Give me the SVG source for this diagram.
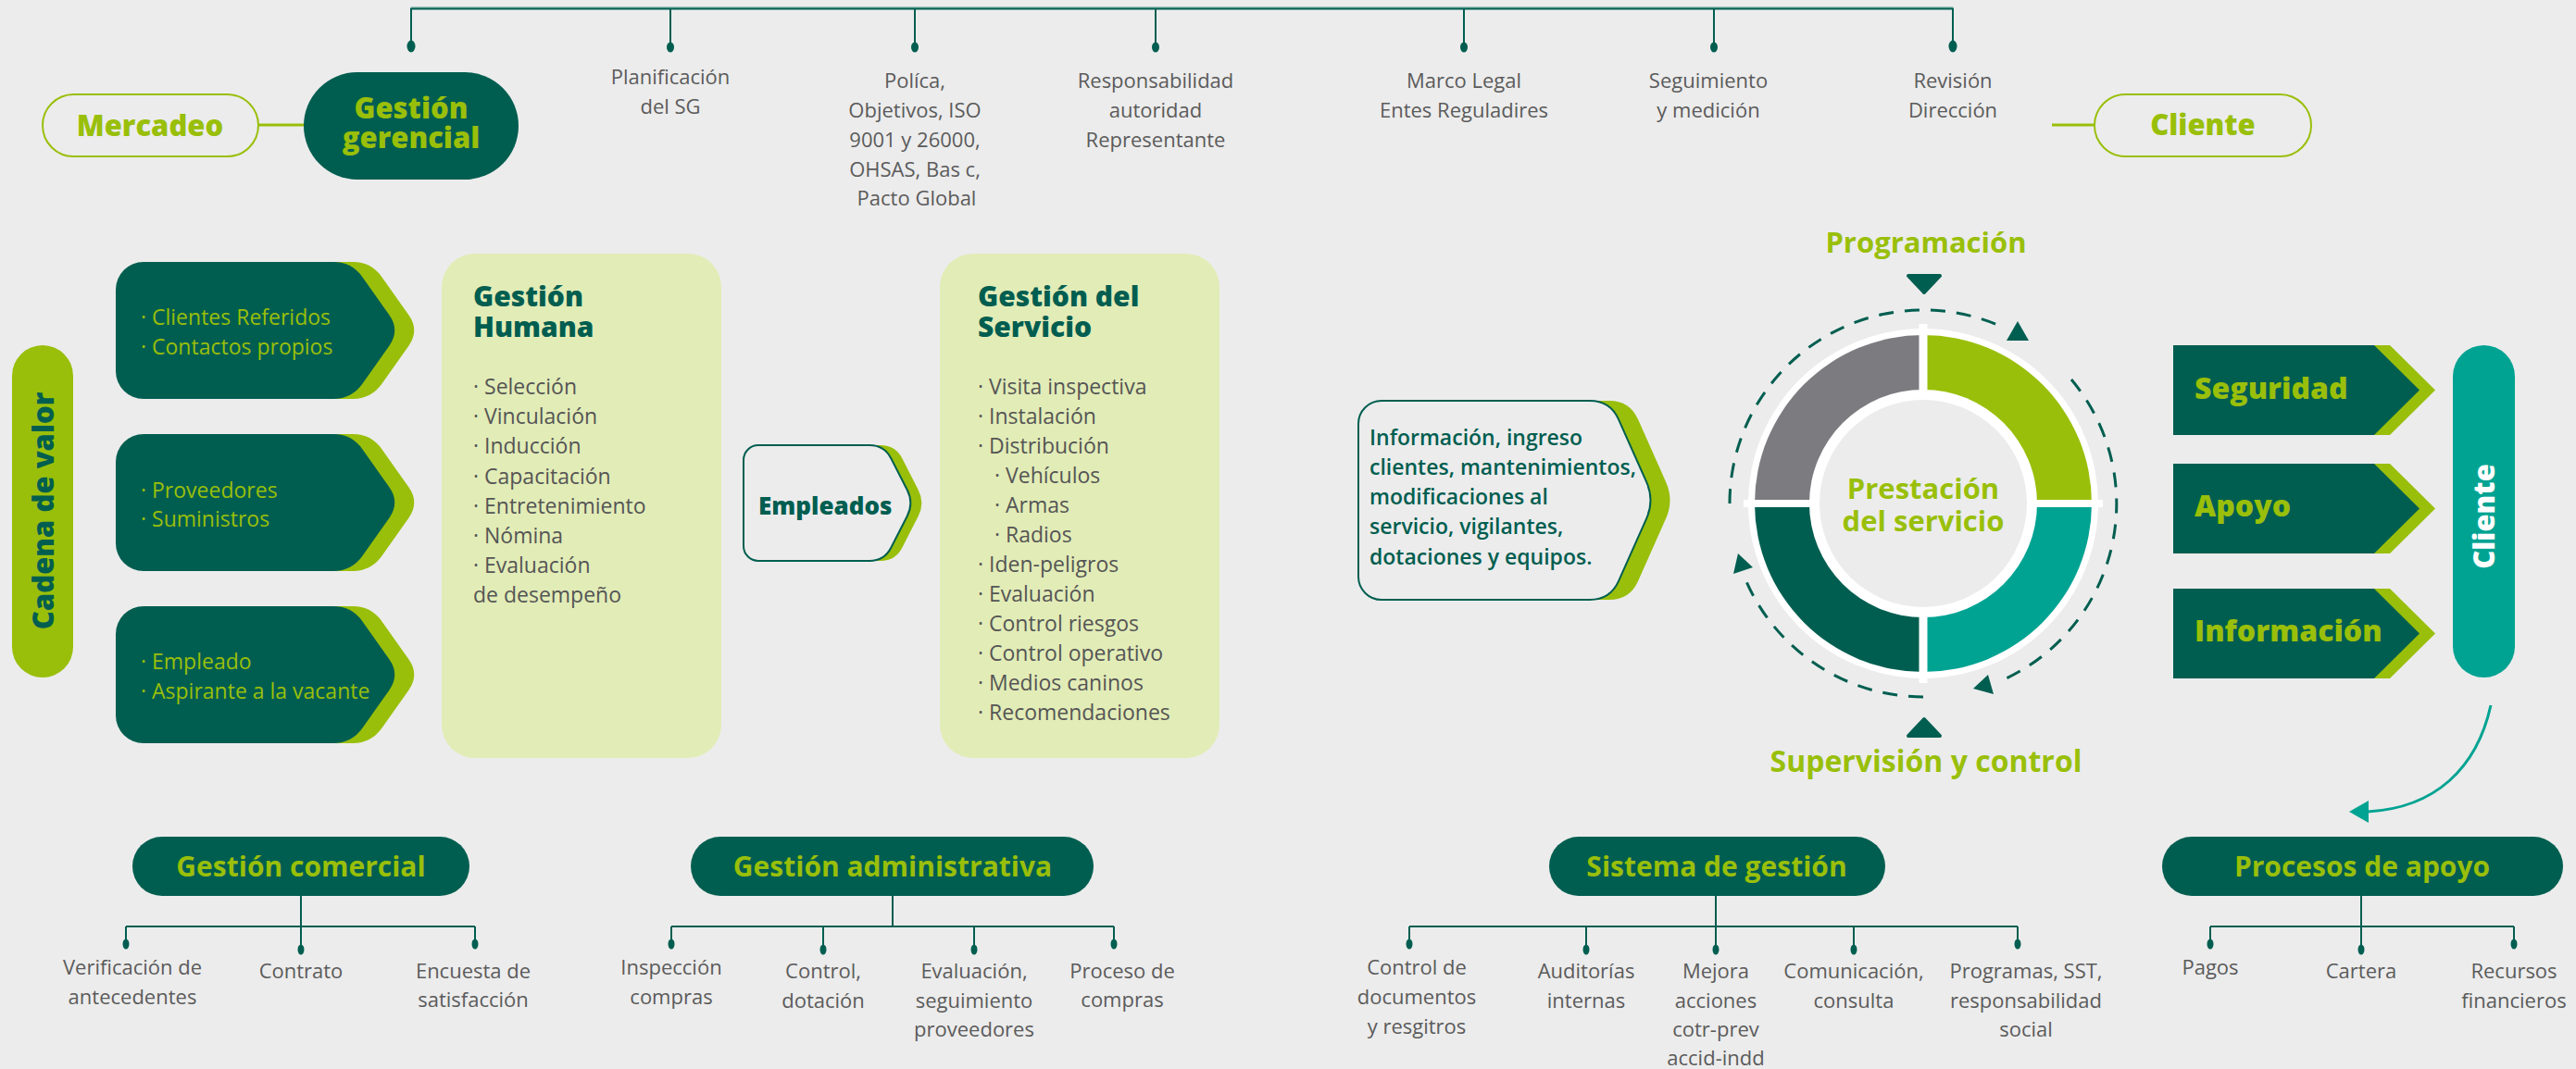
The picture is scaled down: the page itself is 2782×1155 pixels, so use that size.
<svg xmlns="http://www.w3.org/2000/svg" width="2782" height="1155" viewBox="0 0 2782 1155">
<defs>
<style>
text{font-family:"Open Sans","Liberation Sans",sans-serif}
.lbl{font-size:22px;fill:#5b5b5b;text-anchor:middle}
.item{font-size:23px;fill:#555}
.lit{font-size:23px;fill:#99bf0a}
.hl{font-weight:700;fill:#99bf0a;text-anchor:middle}
.xb{font-weight:800}
.hd{font-weight:800;fill:#005e50}
.ln{stroke:#005e50;stroke-width:2;fill:none}
.dot{fill:#005e50}
.dg{fill:#005e50}
.lm{fill:#99bf0a}
.dash{stroke:#005e50;stroke-width:3;fill:none;stroke-dasharray:16 12}
</style>
<path id="lbox" d="M155,283 H360 Q380,283 391.5,299.4 L420.5,340.6 Q432,357 420.5,373.4 L391.5,414.6 Q380,431 360,431 H155 A30,30 0 0 1 125,401 V313 A30,30 0 0 1 155,283 Z"/>
<polygon id="rarr" points="2347,373 2564,373 2613,421.5 2564,470 2347,470"/>
</defs>
<rect width="2782" height="1155" fill="#ececec"/>

<g id="connectors">
<line x1="444" y1="8" x2="2109" y2="8" stroke="#7fb3a8" stroke-width="1.5"/>
<line class="ln" x1="443" y1="9.5" x2="2110" y2="9.5" stroke-width="2.5"/>
<line class="ln" x1="444" y1="9" x2="444" y2="48"/>
<line class="ln" x1="724" y1="9" x2="724" y2="48"/>
<line class="ln" x1="988" y1="9" x2="988" y2="48"/>
<line class="ln" x1="1248" y1="9" x2="1248" y2="48"/>
<line class="ln" x1="1581" y1="9" x2="1581" y2="48"/>
<line class="ln" x1="1851" y1="9" x2="1851" y2="48"/>
<line class="ln" x1="2109" y1="9" x2="2109" y2="48"/>
<ellipse class="dot" cx="444" cy="50" rx="4.5" ry="6.5"/>
<ellipse class="dot" cx="724" cy="51" rx="4" ry="5.5"/>
<ellipse class="dot" cx="988" cy="51" rx="4" ry="5.5"/>
<ellipse class="dot" cx="1248" cy="51" rx="4" ry="5.5"/>
<ellipse class="dot" cx="1581" cy="51" rx="4" ry="5.5"/>
<ellipse class="dot" cx="1851" cy="51" rx="4" ry="5.5"/>
<ellipse class="dot" cx="2109" cy="50" rx="4.5" ry="6.5"/>
<line x1="279" y1="135" x2="330" y2="135" stroke="#99bf0a" stroke-width="3"/>
<line x1="2216" y1="135" x2="2262" y2="135" stroke="#99bf0a" stroke-width="3"/>
<line class="ln" x1="325" y1="968" x2="325" y2="1001"/>
<line class="ln" x1="136" y1="1001" x2="513" y2="1001"/>
<line class="ln" x1="136" y1="1001" x2="136" y2="1018"/>
<line class="ln" x1="325" y1="1001" x2="325" y2="1024"/>
<line class="ln" x1="513" y1="1001" x2="513" y2="1018"/>
<ellipse class="dot" cx="136" cy="1020" rx="3.5" ry="5.5"/>
<ellipse class="dot" cx="325" cy="1026" rx="3.5" ry="5.5"/>
<ellipse class="dot" cx="513" cy="1020" rx="3.5" ry="5.5"/>
<line class="ln" x1="964" y1="968" x2="964" y2="1001"/>
<line class="ln" x1="725" y1="1001" x2="1203" y2="1001"/>
<line class="ln" x1="725" y1="1001" x2="725" y2="1018"/>
<line class="ln" x1="889" y1="1001" x2="889" y2="1024"/>
<line class="ln" x1="1052" y1="1001" x2="1052" y2="1024"/>
<line class="ln" x1="1203" y1="1001" x2="1203" y2="1018"/>
<ellipse class="dot" cx="725" cy="1020" rx="3.5" ry="5.5"/>
<ellipse class="dot" cx="889" cy="1026" rx="3.5" ry="5.5"/>
<ellipse class="dot" cx="1052" cy="1026" rx="3.5" ry="5.5"/>
<ellipse class="dot" cx="1203" cy="1020" rx="3.5" ry="5.5"/>
<line class="ln" x1="1853" y1="968" x2="1853" y2="1001"/>
<line class="ln" x1="1522" y1="1001" x2="2179" y2="1001"/>
<line class="ln" x1="1522" y1="1001" x2="1522" y2="1018"/>
<line class="ln" x1="1713" y1="1001" x2="1713" y2="1024"/>
<line class="ln" x1="1853" y1="1001" x2="1853" y2="1024"/>
<line class="ln" x1="2002" y1="1001" x2="2002" y2="1024"/>
<line class="ln" x1="2179" y1="1001" x2="2179" y2="1018"/>
<ellipse class="dot" cx="1522" cy="1020" rx="3.5" ry="5.5"/>
<ellipse class="dot" cx="1713" cy="1026" rx="3.5" ry="5.5"/>
<ellipse class="dot" cx="1853" cy="1026" rx="3.5" ry="5.5"/>
<ellipse class="dot" cx="2002" cy="1026" rx="3.5" ry="5.5"/>
<ellipse class="dot" cx="2179" cy="1020" rx="3.5" ry="5.5"/>
<line class="ln" x1="2550" y1="968" x2="2550" y2="1001"/>
<line class="ln" x1="2387" y1="1001" x2="2715" y2="1001"/>
<line class="ln" x1="2387" y1="1001" x2="2387" y2="1018"/>
<line class="ln" x1="2550" y1="1001" x2="2550" y2="1024"/>
<line class="ln" x1="2715" y1="1001" x2="2715" y2="1018"/>
<ellipse class="dot" cx="2387" cy="1020" rx="3.5" ry="5.5"/>
<ellipse class="dot" cx="2550" cy="1026" rx="3.5" ry="5.5"/>
<ellipse class="dot" cx="2715" cy="1020" rx="3.5" ry="5.5"/>
<path class="dash" d="M1868,544 A209,209 0 0 1 2162,353"/>
<polygon class="dg" points="2179,347 2167,368 2191,368"/>
<path class="dash" d="M2237,410 A209,209 0 0 1 2160,736"/>
<polygon class="dg" points="2131,744 2147,729 2153,750"/>
<path class="dash" d="M2077,753 A209,209 0 0 1 1885,626"/>
<polygon class="dg" points="1877,598 1872,620 1893,613"/>
<path d="M2690,762 C2675,830 2630,873 2557,877" stroke="#00a392" stroke-width="3" fill="none"/>
<polygon points="2537,877 2558,865 2558,889" fill="#00a392"/>
</g>

<g id="top-labels">
<text class="lbl" x="724" y="91">Planificación</text>
<text class="lbl" x="724" y="123">del SG</text>
<text class="lbl" x="988" y="95">Políca,</text>
<text class="lbl" x="988" y="127">Objetivos, ISO</text>
<text class="lbl" x="988" y="159">9001 y 26000,</text>
<text class="lbl" x="988" y="191">OHSAS, Bas c,</text>
<text class="lbl" x="990" y="222">Pacto Global</text>
<text class="lbl" x="1248" y="95">Responsabilidad</text>
<text class="lbl" x="1248" y="127">autoridad</text>
<text class="lbl" x="1248" y="159">Representante</text>
<text class="lbl" x="1581" y="95">Marco Legal</text>
<text class="lbl" x="1581" y="127">Entes Reguladires</text>
<text class="lbl" x="1845" y="95">Seguimiento</text>
<text class="lbl" x="1845" y="127">y medición</text>
<text class="lbl" x="2109" y="95">Revisión</text>
<text class="lbl" x="2109" y="127">Dirección</text>
</g>

<g id="mercadeo">
<rect x="46" y="102" width="233" height="67" rx="33.5" fill="none" stroke="#99bf0a" stroke-width="2"/>
<text class="hl xb" x="162" y="147" font-size="31">Mercadeo</text>
</g>
<g id="gestion-gerencial">
<rect x="328" y="78" width="232" height="116" rx="58" class="dg"/>
<text class="hl xb" x="444" y="128" font-size="31">Gestión</text>
<text class="hl xb" x="444" y="160" font-size="31">gerencial</text>
</g>
<g id="cliente-top">
<rect x="2262" y="102" width="234" height="67" rx="33.5" fill="none" stroke="#99bf0a" stroke-width="2"/>
<text class="hl xb" x="2379" y="146" font-size="31">Cliente</text>
</g>

<g id="cadena-de-valor">
<rect x="13" y="373" width="66" height="359" rx="33" class="lm"/>
<text class="hd" transform="translate(58,552) rotate(-90)" text-anchor="middle" font-size="31">Cadena de valor</text>
</g>

<g id="box-clientes">
<use href="#lbox" class="lm" transform="translate(21,0)"/>
<use href="#lbox" class="dg"/>
<text class="lit" x="152" y="351">· Clientes Referidos</text>
<text class="lit" x="152" y="383">· Contactos propios</text>
</g>
<g id="box-proveedores">
<use href="#lbox" class="lm" transform="translate(21,186)"/>
<use href="#lbox" class="dg" transform="translate(0,186)"/>
<text class="lit" x="152" y="538">· Proveedores</text>
<text class="lit" x="152" y="569">· Suministros</text>
</g>
<g id="box-empleado">
<use href="#lbox" class="lm" transform="translate(21,372)"/>
<use href="#lbox" class="dg" transform="translate(0,372)"/>
<text class="lit" x="152" y="723">· Empleado</text>
<text class="lit" x="152" y="755">· Aspirante a la vacante</text>
</g>

<g id="gestion-humana">
<rect x="477" y="274" width="302" height="545" rx="36" fill="#e2ecb7"/>
<text class="hd" x="511" y="331" font-size="30">Gestión</text>
<text class="hd" x="511" y="364" font-size="30">Humana</text>
<text class="item" x="511" y="426">· Selección</text>
<text class="item" x="511" y="458">· Vinculación</text>
<text class="item" x="511" y="490">· Inducción</text>
<text class="item" x="511" y="523">· Capacitación</text>
<text class="item" x="511" y="555">· Entretenimiento</text>
<text class="item" x="511" y="587">· Nómina</text>
<text class="item" x="511" y="619">· Evaluación</text>
<text class="item" x="511" y="651">de desempeño</text>
</g>

<g id="empleados">
<path transform="translate(12,0)" class="lm" d="M819,481 H939 Q955,481 962.3,495.2 L979.7,529.3 Q987,543.5 979.7,557.7 L962.3,591.8 Q955,606 939,606 H819 A16,16 0 0 1 803,590 V497 A16,16 0 0 1 819,481 Z"/>
<path fill="#ececec" stroke="#005e50" stroke-width="2" d="M819,481 H939 Q955,481 962.3,495.2 L979.7,529.3 Q987,543.5 979.7,557.7 L962.3,591.8 Q955,606 939,606 H819 A16,16 0 0 1 803,590 V497 A16,16 0 0 1 819,481 Z"/>
<text class="hd" x="819" y="556" font-size="26">Empleados</text>
</g>

<g id="gestion-servicio">
<rect x="1015" y="274" width="302" height="545" rx="36" fill="#e2ecb7"/>
<text class="hd" x="1056" y="331" font-size="30">Gestión del</text>
<text class="hd" x="1056" y="364" font-size="30">Servicio</text>
<text class="item" x="1056" y="426">· Visita inspectiva</text>
<text class="item" x="1056" y="458">· Instalación</text>
<text class="item" x="1056" y="490">· Distribución</text>
<text class="item" x="1074" y="522">· Vehículos</text>
<text class="item" x="1074" y="554">· Armas</text>
<text class="item" x="1074" y="586">· Radios</text>
<text class="item" x="1056" y="618">· Iden-peligros</text>
<text class="item" x="1056" y="650">· Evaluación</text>
<text class="item" x="1056" y="682">· Control riesgos</text>
<text class="item" x="1056" y="714">· Control operativo</text>
<text class="item" x="1056" y="746">· Medios caninos</text>
<text class="item" x="1056" y="778">· Recomendaciones</text>
</g>

<g id="informacion-box">
<path transform="translate(21,0)" class="lm" d="M1492,433 H1717 Q1739,433 1748,453.1 L1778,520.4 Q1787,540.5 1778,560.6 L1748,627.9 Q1739,648 1717,648 H1492 A25,25 0 0 1 1467,623 V458 A25,25 0 0 1 1492,433 Z"/>
<path fill="#ececec" stroke="#005e50" stroke-width="2" d="M1492,433 H1717 Q1739,433 1748,453.1 L1778,520.4 Q1787,540.5 1778,560.6 L1748,627.9 Q1739,648 1717,648 H1492 A25,25 0 0 1 1467,623 V458 A25,25 0 0 1 1492,433 Z"/>
<g font-size="23" font-weight="600" fill="#005e50">
<text x="1479" y="481">Información, ingreso</text>
<text x="1479" y="513">clientes, mantenimientos,</text>
<text x="1479" y="545">modificaciones al</text>
<text x="1479" y="577">servicio, vigilantes,</text>
<text x="1479" y="610">dotaciones y equipos.</text>
</g>
</g>

<g id="prestacion-servicio">
<circle cx="2077" cy="544" r="189" fill="#ffffff"/>
<path d="M2077,544 L1895,544 A182,182 0 0 1 2077,362 Z" fill="#7c7b80"/>
<path d="M2077,544 L2077,362 A182,182 0 0 1 2259,544 Z" fill="#99bf0a"/>
<path d="M2077,544 L2259,544 A182,182 0 0 1 2077,726 Z" fill="#00a392"/>
<path d="M2077,544 L2077,726 A182,182 0 0 1 1895,544 Z" fill="#005e50"/>
<line x1="2077" y1="350" x2="2077" y2="738" stroke="#ffffff" stroke-width="9"/>
<line x1="1883" y1="544" x2="2271" y2="544" stroke="#ffffff" stroke-width="8"/>
<circle cx="2077" cy="544" r="123" fill="#ffffff"/>
<circle cx="2077" cy="544" r="112" fill="#ececec"/>
<text class="hl" x="2077" y="539" font-size="31">Prestación</text>
<text class="hl" x="2077" y="574" font-size="31">del servicio</text>
</g>

<g id="programacion">
<text class="hl" x="2080" y="273" font-size="31">Programación</text>
<polygon points="2061,298 2095,298 2078,316" class="dg" stroke="#005e50" stroke-width="4" stroke-linejoin="round"/>
</g>
<g id="supervision">
<polygon points="2061,795 2095,795 2078,777" class="dg" stroke="#005e50" stroke-width="4" stroke-linejoin="round"/>
<text class="hl" x="2080" y="834" font-size="32">Supervisión y control</text>
</g>

<g id="seguridad">
<use href="#rarr" class="lm" transform="translate(17,0)"/>
<use href="#rarr" class="dg"/>
<text class="hd" x="2370" y="431" font-size="32" style="fill:#99bf0a">Seguridad</text>
</g>
<g id="apoyo">
<use href="#rarr" class="lm" transform="translate(17,128)"/>
<use href="#rarr" class="dg" transform="translate(0,128)"/>
<text class="hd" x="2370" y="558" font-size="32" style="fill:#99bf0a">Apoyo</text>
</g>
<g id="informacion">
<use href="#rarr" class="lm" transform="translate(17,263)"/>
<use href="#rarr" class="dg" transform="translate(0,263)"/>
<text class="hd" x="2370" y="693" font-size="32" style="fill:#99bf0a">Información</text>
</g>

<g id="cliente-vertical">
<rect x="2649" y="373" width="67" height="359" rx="33.5" fill="#00a392"/>
<text class="hd" transform="translate(2694,558) rotate(-90)" text-anchor="middle" font-size="31" style="fill:#ffffff">Cliente</text>
</g>

<g id="gestion-comercial">
<rect x="143" y="904" width="364" height="64" rx="32" class="dg"/>
<text class="hl" x="325" y="947" font-size="30">Gestión comercial</text>
<text class="lbl" x="143" y="1053">Verificación de</text>
<text class="lbl" x="143" y="1085">antecedentes</text>
<text class="lbl" x="325" y="1057">Contrato</text>
<text class="lbl" x="511" y="1057">Encuesta de</text>
<text class="lbl" x="511" y="1088">satisfacción</text>
</g>

<g id="gestion-administrativa">
<rect x="746" y="904" width="435" height="64" rx="32" class="dg"/>
<text class="hl" x="964" y="947" font-size="30">Gestión administrativa</text>
<text class="lbl" x="725" y="1053">Inspección</text>
<text class="lbl" x="725" y="1085">compras</text>
<text class="lbl" x="889" y="1057">Control,</text>
<text class="lbl" x="889" y="1089">dotación</text>
<text class="lbl" x="1052" y="1057">Evaluación,</text>
<text class="lbl" x="1052" y="1089">seguimiento</text>
<text class="lbl" x="1052" y="1120">proveedores</text>
<text class="lbl" x="1212" y="1057">Proceso de</text>
<text class="lbl" x="1212" y="1088">compras</text>
</g>

<g id="sistema-gestion">
<rect x="1673" y="904" width="363" height="64" rx="32" class="dg"/>
<text class="hl" x="1854" y="947" font-size="30">Sistema de gestión</text>
<text class="lbl" x="1530" y="1053">Control de</text>
<text class="lbl" x="1530" y="1085">documentos</text>
<text class="lbl" x="1530" y="1117">y resgitros</text>
<text class="lbl" x="1713" y="1057">Auditorías</text>
<text class="lbl" x="1713" y="1089">internas</text>
<text class="lbl" x="1853" y="1057">Mejora</text>
<text class="lbl" x="1853" y="1089">acciones</text>
<text class="lbl" x="1853" y="1120">cotr-prev</text>
<text class="lbl" x="1853" y="1151">accid-indd</text>
<text class="lbl" x="2002" y="1057">Comunicación,</text>
<text class="lbl" x="2002" y="1089">consulta</text>
<text class="lbl" x="2188" y="1057">Programas, SST,</text>
<text class="lbl" x="2188" y="1089">responsabilidad</text>
<text class="lbl" x="2188" y="1120">social</text>
</g>

<g id="procesos-apoyo">
<rect x="2335" y="904" width="433" height="64" rx="32" class="dg"/>
<text class="hl" x="2551" y="947" font-size="30">Procesos de apoyo</text>
<text class="lbl" x="2387" y="1053">Pagos</text>
<text class="lbl" x="2550" y="1057">Cartera</text>
<text class="lbl" x="2715" y="1057">Recursos</text>
<text class="lbl" x="2715" y="1089">financieros</text>
</g>
</svg>
